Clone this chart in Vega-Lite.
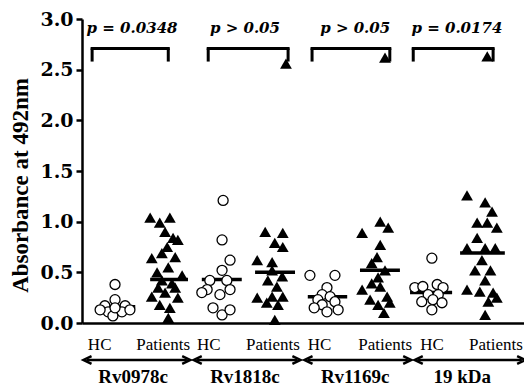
{
  "$schema": "https://vega.github.io/schema/vega-lite/v6.json",
  "width": 442,
  "height": 304,
  "autosize": "none",
  "padding": {"left": 82, "top": 19, "right": 0, "bottom": 65},
  "background": "white",
  "config": {"view": {"stroke": null}},
  "datasets": {
    "pts": [
      {"g": "Rv0978c", "cls": "HC", "x": 0.62, "v": 0.38},
      {"g": "Rv0978c", "cls": "HC", "x": 0.62, "v": 0.23},
      {"g": "Rv0978c", "cls": "HC", "x": 0.43, "v": 0.17},
      {"g": "Rv0978c", "cls": "HC", "x": 0.81, "v": 0.17},
      {"g": "Rv0978c", "cls": "HC", "x": 0.49, "v": 0.11},
      {"g": "Rv0978c", "cls": "HC", "x": 0.75, "v": 0.11},
      {"g": "Rv0978c", "cls": "HC", "x": 0.58, "v": 0.07},
      {"g": "Rv0978c", "cls": "HC", "x": 0.34, "v": 0.13},
      {"g": "Rv0978c", "cls": "HC", "x": 0.90, "v": 0.13},
      {"g": "Rv0978c", "cls": "HC", "x": 0.62, "v": 0.15},
      {"g": "Rv0978c", "cls": "Patients", "x": 1.28, "v": 1.04},
      {"g": "Rv0978c", "cls": "Patients", "x": 1.46, "v": 0.99},
      {"g": "Rv0978c", "cls": "Patients", "x": 1.65, "v": 1.04},
      {"g": "Rv0978c", "cls": "Patients", "x": 1.71, "v": 0.84},
      {"g": "Rv0978c", "cls": "Patients", "x": 1.60, "v": 0.75},
      {"g": "Rv0978c", "cls": "Patients", "x": 1.80, "v": 0.82},
      {"g": "Rv0978c", "cls": "Patients", "x": 1.31, "v": 0.64},
      {"g": "Rv0978c", "cls": "Patients", "x": 1.50, "v": 0.69},
      {"g": "Rv0978c", "cls": "Patients", "x": 1.75, "v": 0.65},
      {"g": "Rv0978c", "cls": "Patients", "x": 1.62, "v": 0.55},
      {"g": "Rv0978c", "cls": "Patients", "x": 1.41, "v": 0.50},
      {"g": "Rv0978c", "cls": "Patients", "x": 1.88, "v": 0.47},
      {"g": "Rv0978c", "cls": "Patients", "x": 1.50, "v": 0.42},
      {"g": "Rv0978c", "cls": "Patients", "x": 1.69, "v": 0.39},
      {"g": "Rv0978c", "cls": "Patients", "x": 1.31, "v": 0.26},
      {"g": "Rv0978c", "cls": "Patients", "x": 1.56, "v": 0.30},
      {"g": "Rv0978c", "cls": "Patients", "x": 1.80, "v": 0.25},
      {"g": "Rv0978c", "cls": "Patients", "x": 1.46, "v": 0.18},
      {"g": "Rv0978c", "cls": "Patients", "x": 1.65, "v": 0.15},
      {"g": "Rv0978c", "cls": "Patients", "x": 1.62, "v": 0.05},
      {"g": "Rv0978c", "cls": "Patients", "x": 1.56, "v": 0.90},
      {"g": "Rv0978c", "cls": "Patients", "x": 1.43, "v": 0.35},
      {"g": "Rv0978c", "cls": "Patients", "x": 1.75, "v": 0.35},
      {"g": "Rv1818c", "cls": "HC", "x": 2.65, "v": 1.21},
      {"g": "Rv1818c", "cls": "HC", "x": 2.63, "v": 0.82},
      {"g": "Rv1818c", "cls": "HC", "x": 2.78, "v": 0.62},
      {"g": "Rv1818c", "cls": "HC", "x": 2.63, "v": 0.52},
      {"g": "Rv1818c", "cls": "HC", "x": 2.40, "v": 0.42},
      {"g": "Rv1818c", "cls": "HC", "x": 2.72, "v": 0.42},
      {"g": "Rv1818c", "cls": "HC", "x": 2.35, "v": 0.33},
      {"g": "Rv1818c", "cls": "HC", "x": 2.78, "v": 0.33},
      {"g": "Rv1818c", "cls": "HC", "x": 2.25, "v": 0.30},
      {"g": "Rv1818c", "cls": "HC", "x": 2.59, "v": 0.28},
      {"g": "Rv1818c", "cls": "HC", "x": 2.46, "v": 0.15},
      {"g": "Rv1818c", "cls": "HC", "x": 2.63, "v": 0.08},
      {"g": "Rv1818c", "cls": "HC", "x": 2.78, "v": 0.13},
      {"g": "Rv1818c", "cls": "Patients", "x": 3.44, "v": 0.90},
      {"g": "Rv1818c", "cls": "Patients", "x": 3.77, "v": 0.89},
      {"g": "Rv1818c", "cls": "Patients", "x": 3.62, "v": 0.79},
      {"g": "Rv1818c", "cls": "Patients", "x": 3.77, "v": 0.75},
      {"g": "Rv1818c", "cls": "Patients", "x": 3.29, "v": 0.62},
      {"g": "Rv1818c", "cls": "Patients", "x": 3.57, "v": 0.60},
      {"g": "Rv1818c", "cls": "Patients", "x": 3.57, "v": 0.52},
      {"g": "Rv1818c", "cls": "Patients", "x": 3.76, "v": 0.46},
      {"g": "Rv1818c", "cls": "Patients", "x": 3.49, "v": 0.42},
      {"g": "Rv1818c", "cls": "Patients", "x": 3.66, "v": 0.36},
      {"g": "Rv1818c", "cls": "Patients", "x": 3.29, "v": 0.25},
      {"g": "Rv1818c", "cls": "Patients", "x": 3.57, "v": 0.26},
      {"g": "Rv1818c", "cls": "Patients", "x": 3.77, "v": 0.26},
      {"g": "Rv1818c", "cls": "Patients", "x": 3.47, "v": 0.20},
      {"g": "Rv1818c", "cls": "Patients", "x": 3.68, "v": 0.18},
      {"g": "Rv1818c", "cls": "Patients", "x": 3.62, "v": 0.03},
      {"g": "Rv1818c", "cls": "Patients", "x": 3.83, "v": 2.56},
      {"g": "Rv1169c", "cls": "HC", "x": 4.28, "v": 0.47},
      {"g": "Rv1169c", "cls": "HC", "x": 4.75, "v": 0.47},
      {"g": "Rv1169c", "cls": "HC", "x": 4.60, "v": 0.35},
      {"g": "Rv1169c", "cls": "HC", "x": 4.51, "v": 0.28},
      {"g": "Rv1169c", "cls": "HC", "x": 4.66, "v": 0.26},
      {"g": "Rv1169c", "cls": "HC", "x": 4.43, "v": 0.23},
      {"g": "Rv1169c", "cls": "HC", "x": 4.75, "v": 0.21},
      {"g": "Rv1169c", "cls": "HC", "x": 4.51, "v": 0.18},
      {"g": "Rv1169c", "cls": "HC", "x": 4.36, "v": 0.15},
      {"g": "Rv1169c", "cls": "HC", "x": 4.81, "v": 0.13},
      {"g": "Rv1169c", "cls": "HC", "x": 4.60, "v": 0.11},
      {"g": "Rv1169c", "cls": "Patients", "x": 5.60, "v": 1.00},
      {"g": "Rv1169c", "cls": "Patients", "x": 5.26, "v": 0.89},
      {"g": "Rv1169c", "cls": "Patients", "x": 5.75, "v": 0.94},
      {"g": "Rv1169c", "cls": "Patients", "x": 5.60, "v": 0.77},
      {"g": "Rv1169c", "cls": "Patients", "x": 5.54, "v": 0.65},
      {"g": "Rv1169c", "cls": "Patients", "x": 5.44, "v": 0.59},
      {"g": "Rv1169c", "cls": "Patients", "x": 5.69, "v": 0.52},
      {"g": "Rv1169c", "cls": "Patients", "x": 5.56, "v": 0.45},
      {"g": "Rv1169c", "cls": "Patients", "x": 5.26, "v": 0.33},
      {"g": "Rv1169c", "cls": "Patients", "x": 5.60, "v": 0.36},
      {"g": "Rv1169c", "cls": "Patients", "x": 5.73, "v": 0.26},
      {"g": "Rv1169c", "cls": "Patients", "x": 5.41, "v": 0.23},
      {"g": "Rv1169c", "cls": "Patients", "x": 5.56, "v": 0.18},
      {"g": "Rv1169c", "cls": "Patients", "x": 5.78, "v": 0.20},
      {"g": "Rv1169c", "cls": "Patients", "x": 5.67, "v": 0.10},
      {"g": "Rv1169c", "cls": "Patients", "x": 5.44, "v": 0.39},
      {"g": "Rv1169c", "cls": "Patients", "x": 5.69, "v": 2.62},
      {"g": "19 kDa", "cls": "HC", "x": 6.57, "v": 0.64},
      {"g": "19 kDa", "cls": "HC", "x": 6.25, "v": 0.35},
      {"g": "19 kDa", "cls": "HC", "x": 6.40, "v": 0.36},
      {"g": "19 kDa", "cls": "HC", "x": 6.67, "v": 0.38},
      {"g": "19 kDa", "cls": "HC", "x": 6.78, "v": 0.35},
      {"g": "19 kDa", "cls": "HC", "x": 6.50, "v": 0.28},
      {"g": "19 kDa", "cls": "HC", "x": 6.69, "v": 0.28},
      {"g": "19 kDa", "cls": "HC", "x": 6.38, "v": 0.21},
      {"g": "19 kDa", "cls": "HC", "x": 6.59, "v": 0.23},
      {"g": "19 kDa", "cls": "HC", "x": 6.76, "v": 0.20},
      {"g": "19 kDa", "cls": "HC", "x": 6.57, "v": 0.13},
      {"g": "19 kDa", "cls": "Patients", "x": 7.23, "v": 1.26},
      {"g": "19 kDa", "cls": "Patients", "x": 7.57, "v": 1.19},
      {"g": "19 kDa", "cls": "Patients", "x": 7.70, "v": 1.10},
      {"g": "19 kDa", "cls": "Patients", "x": 7.42, "v": 0.99},
      {"g": "19 kDa", "cls": "Patients", "x": 7.61, "v": 0.99},
      {"g": "19 kDa", "cls": "Patients", "x": 7.79, "v": 0.94},
      {"g": "19 kDa", "cls": "Patients", "x": 7.42, "v": 0.84},
      {"g": "19 kDa", "cls": "Patients", "x": 7.23, "v": 0.74},
      {"g": "19 kDa", "cls": "Patients", "x": 7.57, "v": 0.74},
      {"g": "19 kDa", "cls": "Patients", "x": 7.76, "v": 0.74},
      {"g": "19 kDa", "cls": "Patients", "x": 7.51, "v": 0.62},
      {"g": "19 kDa", "cls": "Patients", "x": 7.38, "v": 0.52},
      {"g": "19 kDa", "cls": "Patients", "x": 7.67, "v": 0.52},
      {"g": "19 kDa", "cls": "Patients", "x": 7.57, "v": 0.42},
      {"g": "19 kDa", "cls": "Patients", "x": 7.23, "v": 0.33},
      {"g": "19 kDa", "cls": "Patients", "x": 7.47, "v": 0.31},
      {"g": "19 kDa", "cls": "Patients", "x": 7.72, "v": 0.30},
      {"g": "19 kDa", "cls": "Patients", "x": 7.63, "v": 0.21},
      {"g": "19 kDa", "cls": "Patients", "x": 7.79, "v": 0.25},
      {"g": "19 kDa", "cls": "Patients", "x": 7.57, "v": 0.08},
      {"g": "19 kDa", "cls": "Patients", "x": 7.61, "v": 2.63}
    ],
    "med": [
      {"a": 0.28, "b": 1.0, "v": 0.16},
      {"a": 1.28, "b": 1.99, "v": 0.43},
      {"a": 2.25, "b": 3.0, "v": 0.43},
      {"a": 3.25, "b": 4.0, "v": 0.50},
      {"a": 4.24, "b": 4.98, "v": 0.26},
      {"a": 5.22, "b": 5.97, "v": 0.52},
      {"a": 6.16, "b": 6.95, "v": 0.30},
      {"a": 7.1, "b": 7.94, "v": 0.69}
    ],
    "brk": [
      {"a": 0.19, "b": 1.62, "top": 2.71, "bot": 2.58, "c": 0.94, "t": "p = 0.0348"},
      {"a": 2.37, "b": 3.87, "top": 2.71, "bot": 2.58, "c": 3.06, "t": "p > 0.05"},
      {"a": 4.32, "b": 5.78, "top": 2.71, "bot": 2.58, "c": 5.13, "t": "p > 0.05"},
      {"a": 6.22, "b": 7.72, "top": 2.71, "bot": 2.58, "c": 7.04, "t": "p = 0.0174"}
    ],
    "grp": [
      {"hc": 0.11, "pt": 2.03, "a": 0.09, "b": 1.97, "c": 0.96, "name": "Rv0978c"},
      {"hc": 2.16, "pt": 4.09, "a": 2.16, "b": 4.04, "c": 3.06, "name": "Rv1818c"},
      {"hc": 4.24, "pt": 6.2, "a": 4.24, "b": 6.12, "c": 5.13, "name": "Rv1169c"},
      {"hc": 6.35, "pt": 8.28, "a": 6.31, "b": 8.26, "c": 7.14, "name": "19 kDa"}
    ]
  },
  "layer": [
    {
      "data": {"name": "med"},
      "mark": {"type": "rule", "color": "black", "strokeWidth": 3.5},
      "encoding": {
        "x": {"field": "a", "type": "quantitative", "scale": {"domain": [0, 8.3], "nice": false, "zero": false},
              "axis": {"labels": false, "ticks": false, "grid": false, "title": null, "domainColor": "black", "domainWidth": 2.5}},
        "x2": {"field": "b"},
        "y": {"field": "v", "type": "quantitative", "scale": {"domain": [0, 3], "nice": false},
              "axis": {"values": [0, 0.5, 1, 1.5, 2, 2.5, 3], "format": ".1f", "grid": false,
                       "domainColor": "black", "domainWidth": 2.5, "tickColor": "black", "tickWidth": 2.5, "tickSize": 6,
                       "labelFont": "DejaVu Serif", "labelFontWeight": "bold", "labelFontSize": 19, "labelColor": "black", "labelPadding": 3,
                       "title": "Absorbance at 492nm", "titleFont": "Liberation Serif", "titleFontWeight": "bold", "titleFontSize": 23,
                       "titleColor": "black", "titleX": -62, "titleY": 166, "titleAngle": -90, "titleAlign": "center", "titleBaseline": "middle"}}
      }
    },
    {
      "data": {"name": "pts"},
      "transform": [{"filter": "datum.cls === 'HC'"}],
      "mark": {"type": "point", "shape": "circle", "filled": false, "fill": "white", "fillOpacity": 1, "stroke": "black", "strokeWidth": 1.3, "size": 100, "opacity": 1},
      "encoding": {
        "x": {"field": "x", "type": "quantitative"},
        "y": {"field": "v", "type": "quantitative"}
      }
    },
    {
      "data": {"name": "pts"},
      "transform": [{"filter": "datum.cls === 'Patients'"}],
      "mark": {"type": "point", "shape": "triangle-up", "filled": true, "color": "black", "size": 140, "opacity": 1},
      "encoding": {
        "x": {"field": "x", "type": "quantitative"},
        "y": {"field": "v", "type": "quantitative"}
      }
    },
    {
      "data": {"name": "brk"},
      "mark": {"type": "rule", "color": "black", "strokeWidth": 3, "strokeCap": "square"},
      "encoding": {
        "x": {"field": "a", "type": "quantitative"},
        "x2": {"field": "b"},
        "y": {"field": "top", "type": "quantitative"}
      }
    },
    {
      "data": {"name": "brk"},
      "mark": {"type": "rule", "color": "black", "strokeWidth": 3},
      "encoding": {
        "x": {"field": "a", "type": "quantitative"},
        "y": {"field": "bot", "type": "quantitative"},
        "y2": {"field": "top"}
      }
    },
    {
      "data": {"name": "brk"},
      "mark": {"type": "rule", "color": "black", "strokeWidth": 3},
      "encoding": {
        "x": {"field": "b", "type": "quantitative"},
        "y": {"field": "bot", "type": "quantitative"},
        "y2": {"field": "top"}
      }
    },
    {
      "data": {"name": "brk"},
      "mark": {"type": "text", "font": "DejaVu Serif", "fontWeight": "bold", "fontStyle": "italic", "fontSize": 15, "color": "black", "align": "center", "baseline": "alphabetic"},
      "encoding": {
        "x": {"field": "c", "type": "quantitative"},
        "y": {"datum": 2.86, "type": "quantitative"},
        "text": {"field": "t"}
      }
    },
    {
      "data": {"name": "grp"},
      "mark": {"type": "text", "font": "Liberation Serif", "fontSize": 17, "color": "black", "align": "left", "baseline": "middle"},
      "encoding": {
        "x": {"field": "hc", "type": "quantitative"},
        "y": {"datum": -0.217, "type": "quantitative"},
        "text": {"value": "HC"}
      }
    },
    {
      "data": {"name": "grp"},
      "mark": {"type": "text", "font": "Liberation Serif", "fontSize": 17, "color": "black", "align": "right", "baseline": "middle"},
      "encoding": {
        "x": {"field": "pt", "type": "quantitative"},
        "y": {"datum": -0.217, "type": "quantitative"},
        "text": {"value": "Patients"}
      }
    },
    {
      "data": {"name": "grp"},
      "mark": {"type": "rule", "color": "black", "strokeWidth": 2.5},
      "encoding": {
        "x": {"field": "a", "type": "quantitative"},
        "x2": {"field": "b"},
        "y": {"datum": -0.365, "type": "quantitative"}
      }
    },
    {
      "data": {"name": "grp"},
      "mark": {"type": "point", "shape": "M1,-0.8L-0.7,0L1,0.8", "filled": false, "stroke": "black", "strokeWidth": 2.5, "size": 90, "opacity": 1},
      "encoding": {
        "x": {"field": "a", "type": "quantitative"},
        "y": {"datum": -0.365, "type": "quantitative"}
      }
    },
    {
      "data": {"name": "grp"},
      "mark": {"type": "point", "shape": "M-1,-0.8L0.7,0L-1,0.8", "filled": false, "stroke": "black", "strokeWidth": 2.5, "size": 90, "opacity": 1},
      "encoding": {
        "x": {"field": "b", "type": "quantitative"},
        "y": {"datum": -0.365, "type": "quantitative"}
      }
    },
    {
      "data": {"name": "grp"},
      "mark": {"type": "text", "font": "Liberation Serif", "fontWeight": "bold", "fontSize": 19, "color": "black", "align": "center", "baseline": "middle"},
      "encoding": {
        "x": {"field": "c", "type": "quantitative"},
        "y": {"datum": -0.535, "type": "quantitative"},
        "text": {"field": "name"}
      }
    }
  ]
}
